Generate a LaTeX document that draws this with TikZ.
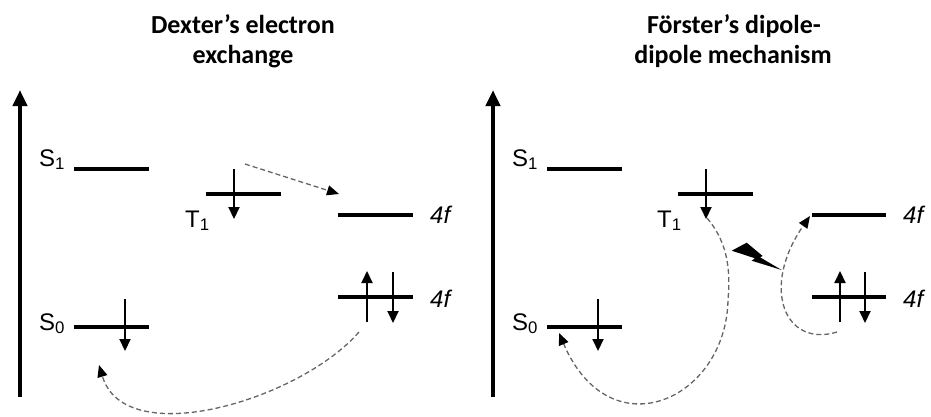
\documentclass[tikz,border=0pt]{standalone}
\usepackage{fontspec}
\setmainfont{Liberation Sans}
\newfontfamily\titlefont{Carlito}
\usetikzlibrary{arrows.meta}
\tikzset{
  level/.style={line width=4pt},
  spin/.style={line width=2pt,-{Triangle[length=12pt,width=11pt]}},
  axisarrow/.style={line width=4pt,-{Triangle[length=16pt,width=14pt]}},
  transfer/.style={draw=black!60,line width=1.3pt,dash pattern=on 5pt off 3pt,
    -{Triangle[length=12pt,width=10pt,color=black]}},
  lab/.style={font=\fontsize{24}{28}\selectfont,anchor=base west,inner sep=0pt},
  flab/.style={font=\itshape\fontsize{24}{28}\selectfont,anchor=base west,inner sep=0pt},
  ttl/.style={font=\titlefont\bfseries\fontsize{26}{30}\selectfont,anchor=base,inner sep=0pt}
}
\begin{document}
\begin{tikzpicture}[x=1pt,y=-1pt]
\useasboundingbox (0,0) rectangle (931,416);
% ---------- titles
\node[ttl] (tl1) at (243,33) {Dexter’s electron};
\node[ttl] (tl2) at (243,63) {exchange};
\node[ttl] (tr1) at (734,33) {Förster’s dipole-};
\node[ttl] (tr2) at (733,63) {dipole mechanism};
% ---------- left panel
\coordinate (LaxB) at (20,397); \coordinate (LaxT) at (20,90);
\draw[axisarrow] (LaxB) -- (LaxT);
\coordinate (LS1a) at (74,169); \coordinate (LS1b) at (149,169);
\coordinate (LT1a) at (206,194); \coordinate (LT1b) at (281,194);
\coordinate (LFsa) at (338,215); \coordinate (LFsb) at (413,215);
\coordinate (LFa) at (338,297); \coordinate (LFb) at (413,297);
\coordinate (LS0a) at (74,327); \coordinate (LS0b) at (149,327);
\foreach \a/\b in {LS1a/LS1b,LT1a/LT1b,LFsa/LFsb,LFa/LFb,LS0a/LS0b}
  \draw[level] (\a) -- (\b);
\node[lab] (lS1) at (39,166) {S\textsubscript{1}};
\node[lab] (lT1) at (185,227) {T\textsubscript{1}};
\node[lab] (lS0) at (39,330) {S\textsubscript{0}};
\node[flab] (lF1) at (430,223) {4f};
\node[flab] (lF2) at (430,307) {4f};
% spins
\coordinate (LT1s) at (234,169); \coordinate (LT1e) at (234,219);
\draw[spin] (LT1s) -- (LT1e);
\coordinate (LS0s) at (125,299); \coordinate (LS0e) at (125,351);
\draw[spin] (LS0s) -- (LS0e);
\coordinate (LFus) at (367,322); \coordinate (LFue) at (367,271);
\draw[spin] (LFus) -- (LFue);
\coordinate (LFds) at (393,272); \coordinate (LFde) at (393,323);
\draw[spin] (LFds) -- (LFde);
% transfers
\coordinate (Ld1s) at (245,164); \coordinate (Ld1e) at (339,194);
\draw[transfer] (Ld1s) -- (Ld1e);
\coordinate (Ld2s) at (359,332); \coordinate (Ld2e) at (99,365);
\draw[transfer] (Ld2s) .. controls (300,400) and (125,452) .. (Ld2e);
% ---------- right panel
\coordinate (RaxB) at (493,397); \coordinate (RaxT) at (493,90);
\draw[axisarrow] (RaxB) -- (RaxT);
\coordinate (RS1a) at (547,169); \coordinate (RS1b) at (622,169);
\coordinate (RT1a) at (678,194); \coordinate (RT1b) at (753,194);
\coordinate (RFsa) at (812,215); \coordinate (RFsb) at (886,215);
\coordinate (RFa) at (812,297); \coordinate (RFb) at (886,297);
\coordinate (RS0a) at (547,327); \coordinate (RS0b) at (622,327);
\foreach \a/\b in {RS1a/RS1b,RT1a/RT1b,RFsa/RFsb,RFa/RFb,RS0a/RS0b}
  \draw[level] (\a) -- (\b);
\node[lab] (rS1) at (512,166) {S\textsubscript{1}};
\node[lab] (rT1) at (657,227) {T\textsubscript{1}};
\node[lab] (rS0) at (512,330) {S\textsubscript{0}};
\node[flab] (rF1) at (903,223) {4f};
\node[flab] (rF2) at (903,307) {4f};
% spins
\coordinate (RT1s) at (706,169); \coordinate (RT1e) at (706,219);
\draw[spin] (RT1s) -- (RT1e);
\coordinate (RS0s) at (598,299); \coordinate (RS0e) at (598,351);
\draw[spin] (RS0s) -- (RS0e);
\coordinate (RFus) at (840,322); \coordinate (RFue) at (840,271);
\draw[spin] (RFus) -- (RFue);
\coordinate (RFds) at (865,272); \coordinate (RFde) at (865,323);
\draw[spin] (RFds) -- (RFde);
% transfers
\coordinate (Rd1s) at (707,218); \coordinate (Rd1m) at (728,300); \coordinate (Rd1e) at (559,333);
\draw[transfer] (Rd1s) .. controls (730,245) and (730,275) .. (Rd1m)
  .. controls (726,400) and (610,452) .. (Rd1e);
\coordinate (Rd2s) at (837,332); \coordinate (Rd2e) at (810,216);
\draw[transfer] (Rd2s) .. controls (785,348) and (760,288) .. (Rd2e);
% lightning bolt
\fill (731.7,250.7) -- (746.7,242.7) -- (762.7,256) -- (760,257.3) -- (781.7,270)
  -- (751.7,260.7) -- (755,258.3) -- cycle;
\end{tikzpicture}
\end{document}
